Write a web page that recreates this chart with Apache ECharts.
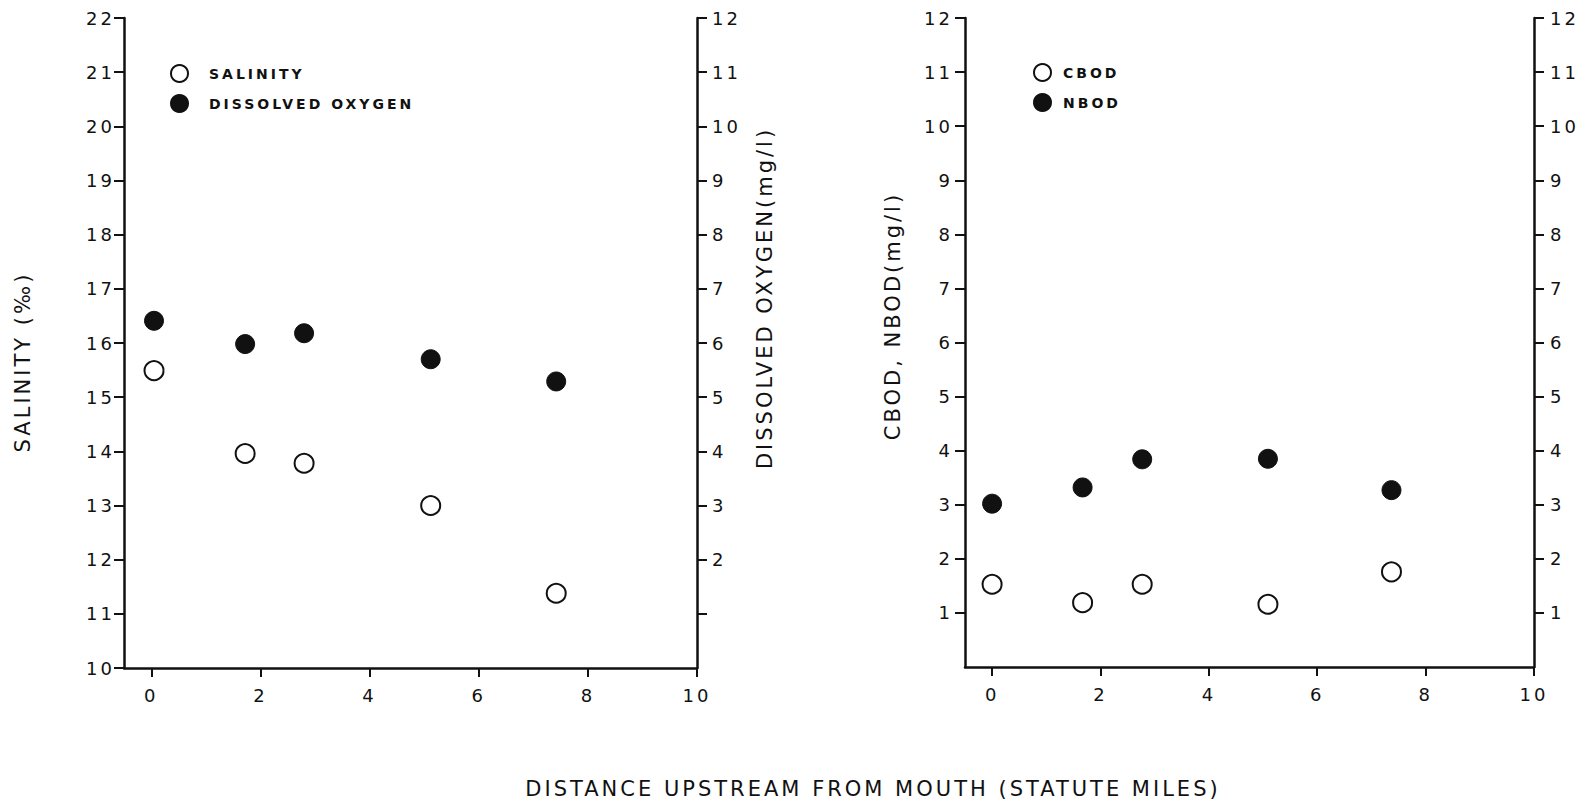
<!DOCTYPE html>
<html>
<head>
<meta charset="utf-8">
<title>Salinity, dissolved oxygen and BOD upstream from the mouth</title>
<script src="https://cdn.jsdelivr.net/npm/echarts@6/dist/echarts.min.js"></script>
<style>
  html, body { margin: 0; padding: 0; background: #fff; }
  #chart { width: 1585px; height: 804px; }
  /* stencil-style lettering: widely spaced capitals */
  #chart svg text { letter-spacing: 3px; }
</style>
</head>
<body>
<div id="chart"></div>
<script>
// Stations, distance upstream from the mouth (statute miles)
const distanceMi = [0.05, 1.72, 2.80, 5.12, 7.42];
const salinity = [15.49, 13.96, 13.78, 13.00, 11.38];          // ‰
const dissolvedOxygen = [6.41, 5.98, 6.18, 5.70, 5.29];         // mg/l

const bodDistanceMi = [0.00, 1.67, 2.77, 5.09, 7.37];
const cbod = [1.53, 1.19, 1.53, 1.16, 1.76];                    // mg/l
const nbod = [3.02, 3.32, 3.84, 3.85, 3.27];                    // mg/l

// Tick positions and labels
const distanceTicks = [0, 2, 4, 6, 8, 10];
const salinityTicks = [10, 11, 12, 13, 14, 15, 16, 17, 18, 19, 20, 21, 22];
const mgTicks = [1, 2, 3, 4, 5, 6, 7, 8, 9, 10, 11, 12];
const doTickLabels = [2, 3, 4, 5, 6, 7, 8, 9, 10, 11, 12];
const bodTickLabels = [1, 2, 3, 4, 5, 6, 7, 8, 9, 10, 11, 12];

const INK = '#111';
const FONT = 'DejaVu Sans';

function pairs(xs, ys) { return xs.map((x, i) => [x, ys[i]]); }

const lineStyle = { color: INK, width: 2.5 };
const labelStyle = { color: INK, fontFamily: FONT, fontSize: 18 };

function xAxis(gridIndex) {
  return {
    type: 'value', gridIndex, min: -0.5, max: 10,
    axisLine: { show: true, onZero: false, lineStyle },
    axisTick: { show: true, customValues: distanceTicks, length: 9, lineStyle: { color: INK, width: 2 } },
    axisLabel: Object.assign({ customValues: distanceTicks, margin: 18 }, labelStyle),
    splitLine: { show: false }
  };
}

function yAxis(gridIndex, position, min, max, tickValues, labelValues, margin) {
  return {
    type: 'value', gridIndex, position, min, max, interval: 1,
    axisLine: { show: true, onZero: false, lineStyle },
    axisTick: { show: true, customValues: tickValues, length: 10, lineStyle: { color: INK, width: 2 } },
    axisLabel: Object.assign({ customValues: labelValues, margin }, labelStyle),
    splitLine: { show: false }
  };
}

const openMarker = { color: '#fff', borderColor: INK, borderWidth: 2, opacity: 1 };
const solidMarker = { color: INK, borderColor: INK, borderWidth: 1, opacity: 1 };

const titleFont = '21px "DejaVu Sans"';

const chart = echarts.init(document.getElementById('chart'), null, { renderer: 'svg' });

chart.setOption({
  backgroundColor: '#fff',
  animation: false,
  grid: [
    { left: 124, top: 18, width: 573, height: 650 },
    { left: 965, top: 18, width: 569, height: 649 }
  ],
  xAxis: [xAxis(0), xAxis(1)],
  yAxis: [
    yAxis(0, 'left', 10, 22, salinityTicks, salinityTicks, 9),
    yAxis(0, 'right', 0, 12, mgTicks, doTickLabels, 15),
    yAxis(1, 'left', 0, 12, mgTicks, bodTickLabels, 12),
    yAxis(1, 'right', 0, 12, mgTicks, bodTickLabels, 16)
  ],
  legend: [
    {
      orient: 'vertical', left: 170, top: 64, padding: 0, itemGap: 11,
      itemWidth: 17, itemHeight: 17, selectedMode: false,
      data: ['SALINITY', 'DISSOLVED OXYGEN'],
      textStyle: { color: INK, fontFamily: FONT, fontWeight: 'bold', fontSize: 14, padding: [0, 0, 0, 16] }
    },
    {
      orient: 'vertical', left: 1033, top: 63, padding: 0, itemGap: 11,
      itemWidth: 17, itemHeight: 17, selectedMode: false,
      data: ['CBOD', 'NBOD'],
      textStyle: { color: INK, fontFamily: FONT, fontWeight: 'bold', fontSize: 14, padding: [0, 0, 0, 7] }
    }
  ],
  series: [
    { name: 'SALINITY', type: 'scatter', xAxisIndex: 0, yAxisIndex: 0, symbolSize: 19,
      itemStyle: openMarker, data: pairs(distanceMi, salinity) },
    { name: 'DISSOLVED OXYGEN', type: 'scatter', xAxisIndex: 0, yAxisIndex: 1, symbolSize: 19,
      itemStyle: solidMarker, data: pairs(distanceMi, dissolvedOxygen) },
    { name: 'CBOD', type: 'scatter', xAxisIndex: 1, yAxisIndex: 2, symbolSize: 19,
      itemStyle: openMarker, data: pairs(bodDistanceMi, cbod) },
    { name: 'NBOD', type: 'scatter', xAxisIndex: 1, yAxisIndex: 2, symbolSize: 19,
      itemStyle: solidMarker, data: pairs(bodDistanceMi, nbod) }
  ],
  graphic: [
    { type: 'text', x: 23, y: 362, rotation: Math.PI / 2,
      style: { text: 'SALINITY (‰)', fill: INK, font: titleFont, align: 'center', verticalAlign: 'middle' } },
    { type: 'text', x: 765, y: 298, rotation: Math.PI / 2,
      style: { text: 'DISSOLVED OXYGEN(mg/l)', fill: INK, font: titleFont, align: 'center', verticalAlign: 'middle' } },
    { type: 'text', x: 893, y: 316, rotation: Math.PI / 2,
      style: { text: 'CBOD, NBOD(mg/l)', fill: INK, font: titleFont, align: 'center', verticalAlign: 'middle' } },
    { type: 'text', x: 873, y: 789,
      style: { text: 'DISTANCE UPSTREAM FROM MOUTH (STATUTE MILES)', fill: INK, font: titleFont, align: 'center', verticalAlign: 'middle' } }
  ]
});
</script>
</body>
</html>
